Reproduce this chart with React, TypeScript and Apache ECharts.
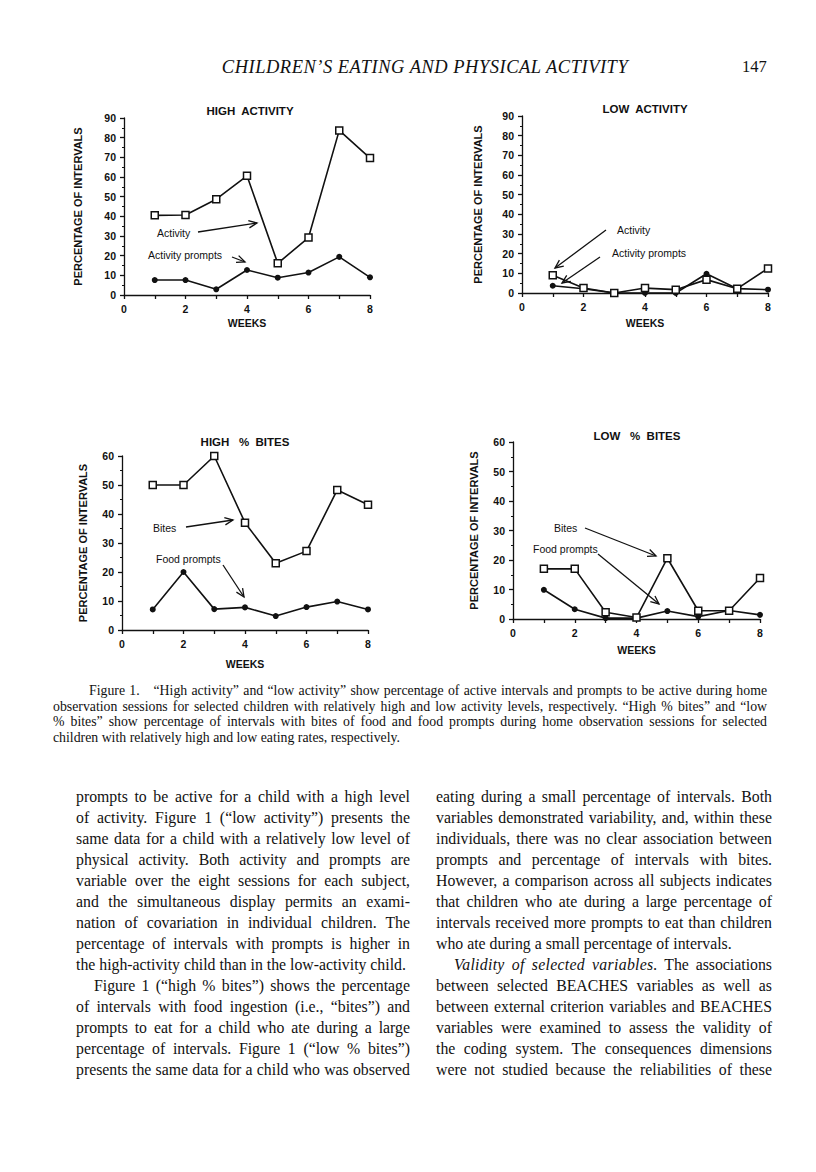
import React, { useEffect, useRef } from "react";
import * as echarts from "echarts";

// ---- data ----
const weeks = [1, 2, 3, 4, 5, 6, 7, 8];
const highActivity = [40.5, 40.7, 48.7, 60.6, 16.1, 29.2, 83.7, 69.6];
const highActivityPrompts = [7.6, 7.6, 2.9, 12.7, 8.8, 11.4, 19.4, 9.0];
const lowActivity = [9.0, 2.5, 0, 2.5, 1.7, 6.8, 2.2, 12.5];
const lowActivityPrompts = [3.7, 2.2, 0, 0, 0, 9.8, 2.2, 1.7];
const highBites = [50, 50, 60, 37, 23, 27.2, 48.3, 43.2];
const highFoodPrompts = [7.1, 20, 7.2, 7.8, 4.8, 7.9, 9.8, 7.1];
const lowBites = [17, 17, 2.3, 0.5, 20.6, 2.8, 2.8, 13.9];
const lowFoodPrompts = [9.9, 3.3, 0.3, 0.3, 2.7, 0.8, 2.9, 1.4];

const panelTitles = ["HIGH  ACTIVITY", "LOW  ACTIVITY", "HIGH   %  BITES", "LOW   %  BITES"];
const panelYMax = [90, 90, 60, 60];
const panelOpen = [highActivity, lowActivity, highBites, lowBites];
const panelFilled = [highActivityPrompts, lowActivityPrompts, highFoodPrompts, lowFoodPrompts];
const openNames = ["Activity", "Activity", "Bites", "Bites"];
const filledNames = ["Activity prompts", "Activity prompts", "Food prompts", "Food prompts"];
const yAxisName = "PERCENTAGE OF INTERVALS";
const xAxisName = "WEEKS";

const headerText = "CHILDREN\u2019S EATING AND PHYSICAL ACTIVITY";
const pageNumber = "147";

const captionLines = [
  "Figure 1.\u2003\u201cHigh activity\u201d and \u201clow activity\u201d show percentage of active intervals and prompts to be active during home",
  "observation sessions for selected children with relatively high and low activity levels, respectively. \u201cHigh % bites\u201d and \u201clow",
  "% bites\u201d show percentage of intervals with bites of food and food prompts during home observation sessions for selected",
  "children with relatively high and low eating rates, respectively.",
];

const leftLines = [
  "prompts to be active for a child with a high level",
  "of activity. Figure 1 (\u201clow activity\u201d) presents the",
  "same data for a child with a relatively low level of",
  "physical activity. Both activity and prompts are",
  "variable over the eight sessions for each subject,",
  "and the simultaneous display permits an exami-",
  "nation of covariation in individual children. The",
  "percentage of intervals with prompts is higher in",
  "the high-activity child than in the low-activity child.",
  "Figure 1 (\u201chigh % bites\u201d) shows the percentage",
  "of intervals with food ingestion (i.e., \u201cbites\u201d) and",
  "prompts to eat for a child who ate during a large",
  "percentage of intervals. Figure 1 (\u201clow % bites\u201d)",
  "presents the same data for a child who was observed",
];
const leftIndent = [9];

const rightLines = [
  "eating during a small percentage of intervals. Both",
  "variables demonstrated variability, and, within these",
  "individuals, there was no clear association between",
  "prompts and percentage of intervals with bites.",
  "However, a comparison across all subjects indicates",
  "that children who ate during a large percentage of",
  "intervals received more prompts to eat than children",
  "who ate during a small percentage of intervals.",
  "@The associations",
  "between selected BEACHES variables as well as",
  "between external criterion variables and BEACHES",
  "variables were examined to assess the validity of",
  "the coding system. The consequences dimensions",
  "were not studied because the reliabilities of these",
];
const rightIndent = [8];
const rightRagged = [7];
const italicLead = "Validity of selected variables.";

// ---- layout ----
const grids = [
  { left: 124, top: 118, width: 246, height: 177 },
  { left: 522, top: 116, width: 246, height: 177 },
  { left: 122, top: 456, width: 246, height: 174 },
  { left: 513, top: 442, width: 247, height: 177 },
];
const titlePos = [
  [250, 105],
  [645, 103],
  [245, 436],
  [637, 430],
];
const yNameGap = [41, 39, 34, 34];
const xNameGap = [22, 24, 28, 25];

const annotations = [
  { text: "Activity", x: 157, y: 233 },
  { text: "Activity prompts", x: 148, y: 255 },
  { text: "Activity", x: 617, y: 230 },
  { text: "Activity prompts", x: 612, y: 253 },
  { text: "Bites", x: 153, y: 528 },
  { text: "Food prompts", x: 156, y: 559 },
  { text: "Bites", x: 554, y: 528 },
  { text: "Food prompts", x: 533, y: 549 },
];
const arrows = [
  [198, 232, 257, 223],
  [232, 257, 245, 262],
  [606, 230, 555, 268],
  [600, 257, 562, 283],
  [186, 527, 233, 520],
  [223, 565, 244, 597],
  [585, 528, 656, 556],
  [598, 554, 659, 604],
];

const SANS = '"Liberation Sans", Arial, Helvetica, sans-serif';
const SERIF = '"Liberation Serif", "Times New Roman", serif';

function arrowElements(x1: number, y1: number, x2: number, y2: number) {
  const ang = Math.atan2(y2 - y1, x2 - x1);
  const L = 9;
  const a = 0.42;
  const p1 = [x2 - L * Math.cos(ang - a), y2 - L * Math.sin(ang - a)];
  const p2 = [x2 - L * Math.cos(ang + a), y2 - L * Math.sin(ang + a)];
  return [
    { type: "line", silent: true, shape: { x1, y1, x2, y2 }, style: { stroke: "#111", lineWidth: 1.3 } },
    {
      type: "polyline",
      silent: true,
      shape: { points: [p1, [x2, y2], p2] },
      style: { stroke: "#111", lineWidth: 1.3, fill: null },
    },
  ];
}

function buildOption() {
  const axisLineStyle = { color: "#111", width: 1.3 };
  const labelStyle = { color: "#111", fontFamily: SANS, fontWeight: "bold" as const, fontSize: 10.5 };
  const xAxis = grids.map((_, i) => ({
    type: "value",
    gridIndex: i,
    min: 0,
    max: 8,
    interval: 1,
    name: xAxisName,
    nameLocation: "middle",
    nameGap: xNameGap[i],
    nameTextStyle: { ...labelStyle, fontSize: 10.5 },
    axisLine: { show: true, onZero: false, lineStyle: axisLineStyle },
    axisTick: { show: true, length: 4, lineStyle: axisLineStyle },
    axisLabel: {
      ...labelStyle,
      margin: 8,
      formatter: (v: number) => (v % 2 === 0 ? String(v) : ""),
    },
    splitLine: { show: false },
  }));
  const yAxis = grids.map((_, i) => ({
    type: "value",
    gridIndex: i,
    min: 0,
    max: panelYMax[i],
    interval: 10,
    name: yAxisName,
    nameLocation: "middle",
    nameGap: yNameGap[i],
    nameTextStyle: { ...labelStyle, fontSize: 11 },
    axisLine: { show: true, onZero: false, lineStyle: axisLineStyle },
    axisTick: { show: true, length: 4, lineStyle: axisLineStyle },
    minorTick: { show: true, splitNumber: 2, length: 2, lineStyle: { color: "#111", width: 1 } },
    axisLabel: { ...labelStyle, margin: 8 },
    splitLine: { show: false },
  }));
  const series: any[] = [];
  grids.forEach((_, i) => {
    series.push({
      type: "line",
      name: filledNames[i],
      xAxisIndex: i,
      yAxisIndex: i,
      data: weeks.map((w, k) => [w, panelFilled[i][k]]),
      symbol: "circle",
      symbolSize: 6,
      lineStyle: { color: "#111", width: 1.6 },
      itemStyle: { color: "#111" },
      z: 3,
    });
    series.push({
      type: "line",
      name: openNames[i],
      xAxisIndex: i,
      yAxisIndex: i,
      data: weeks.map((w, k) => [w, panelOpen[i][k]]),
      symbol: "rect",
      symbolSize: 7,
      showAllSymbol: true,
      lineStyle: { color: "#111", width: 1.6 },
      itemStyle: { color: "#fff", borderColor: "#111", borderWidth: 1.5 },
      z: 4,
    });
  });
  const graphic: any[] = [];
  annotations.forEach((a) => {
    graphic.push({
      type: "text",
      silent: true,
      x: a.x,
      y: a.y,
      style: {
        text: a.text,
        font: `10.5px ${SANS}`,
        fill: "#111",
        align: "left",
        verticalAlign: "middle",
        textAlign: "left",
        textVerticalAlign: "middle",
      },
    });
  });
  arrows.forEach((r) => graphic.push(...arrowElements(r[0], r[1], r[2], r[3])));
  return {
    animation: false,
    title: panelTitles.map((t, i) => ({
      text: t,
      left: titlePos[i][0],
      top: titlePos[i][1],
      textAlign: "center",
      padding: 0,
      textStyle: { color: "#111", fontFamily: SANS, fontWeight: "bold", fontSize: 11.5 },
    })),
    grid: grids.map((g) => ({ ...g, containLabel: false })),
    xAxis,
    yAxis,
    series,
    graphic,
  };
}

function Line({ text, justify, indent }: { text: string; justify: boolean; indent: boolean }) {
  let content: React.ReactNode = text;
  if (text.startsWith("@")) {
    content = (
      <>
        <i style={{ letterSpacing: "0.3px" }}>{italicLead}</i> {text.slice(1)}
      </>
    );
  }
  return (
    <div
      style={{
        whiteSpace: "nowrap",
        textAlign: justify ? "justify" : "left",
        textAlignLast: justify ? "justify" : "left",
        paddingLeft: indent ? 18 : 0,
      }}
    >
      {content}
    </div>
  );
}

export default function App() {
  const ref = useRef<HTMLDivElement>(null);
  useEffect(() => {
    if (!ref.current) return;
    const chart = echarts.init(ref.current, undefined, { renderer: "svg" });
    chart.setOption(buildOption() as any);
    return () => chart.dispose();
  }, []);

  return (
    <div
      style={{
        position: "absolute",
        left: 0,
        top: 0,
        width: 816,
        height: 1172,
        background: "#fff",
        overflow: "hidden",
        color: "#111",
      }}
    >
      <div ref={ref} style={{ position: "absolute", left: 0, top: 0, width: 816, height: 680 }} />
      <div
        style={{
          position: "absolute",
          left: 0,
          top: 56,
          width: 816,
          textAlign: "center",
          fontFamily: SERIF,
          fontStyle: "italic",
          fontSize: 18.5,
          letterSpacing: "0.5px",
          lineHeight: "22px",
          paddingLeft: 34,
          boxSizing: "border-box",
        }}
      >
        {headerText}
      </div>
      <div
        style={{
          position: "absolute",
          left: 742,
          top: 56,
          fontFamily: SERIF,
          fontSize: 16.5,
          lineHeight: "22px",
        }}
      >
        {pageNumber}
      </div>
      <div
        style={{
          position: "absolute",
          left: 53,
          top: 683,
          width: 714,
          fontFamily: SERIF,
          fontSize: 13.8,
          lineHeight: "15.7px",
        }}
      >
        {captionLines.map((t, i) => (
          <div
            key={i}
            style={{
              whiteSpace: "pre",
              textAlign: i < 3 ? "justify" : "left",
              textAlignLast: i < 3 ? "justify" : "left",
              paddingLeft: i === 0 ? 36 : 0,
            }}
          >
            {t}
          </div>
        ))}
      </div>
      <div
        style={{
          position: "absolute",
          left: 76,
          top: 786,
          width: 334,
          fontFamily: SERIF,
          fontSize: 15.8,
          lineHeight: "21px",
        }}
      >
        {leftLines.map((t, i) => (
          <Line key={i} text={t} justify={i !== 8} indent={leftIndent.includes(i)} />
        ))}
      </div>
      <div
        style={{
          position: "absolute",
          left: 436,
          top: 786,
          width: 336,
          fontFamily: SERIF,
          fontSize: 15.8,
          lineHeight: "21px",
        }}
      >
        {rightLines.map((t, i) => (
          <Line key={i} text={t} justify={!rightRagged.includes(i)} indent={rightIndent.includes(i)} />
        ))}
      </div>
    </div>
  );
}
